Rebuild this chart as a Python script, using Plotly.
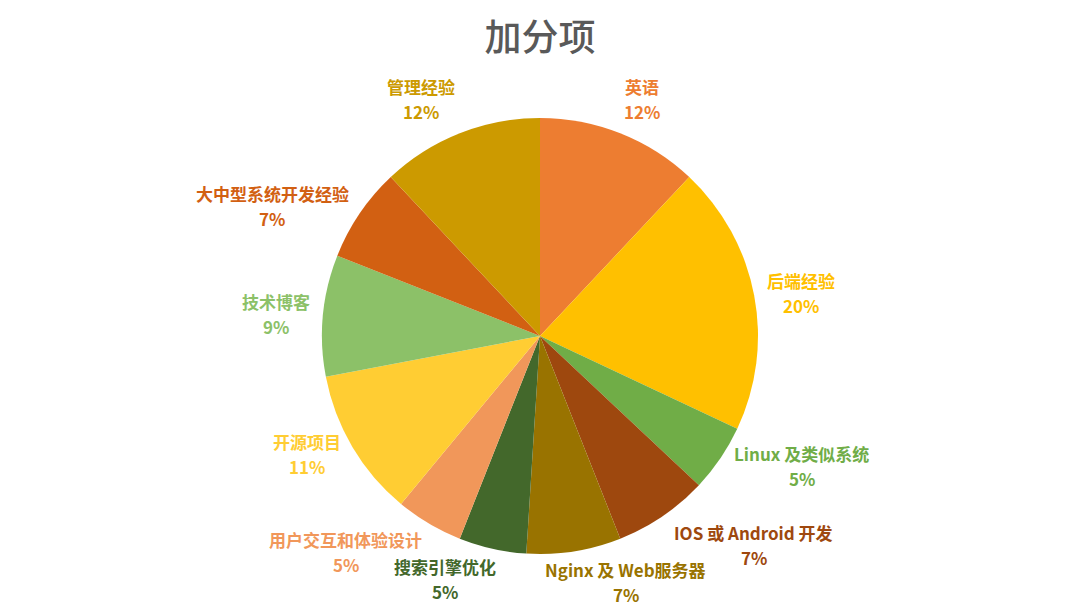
import math
import plotly.graph_objects as go

# Pie data, clockwise from 12 o'clock
labels = ['英语', '后端经验', 'Linux 及类似系统', 'IOS 或 Android 开发', 'Nginx 及 Web服务器',
          '搜索引擎优化', '用户交互和体验设计', '开源项目', '技术博客', '大中型系统开发经验', '管理经验']
values = [12, 20, 5, 7, 7, 5, 5, 11, 9, 7, 12]
colors = ['#ED7D31', '#FFC000', '#70AD47', '#9E480E', '#997300',
          '#43682B', '#F1975A', '#FFCD33', '#8CC168', '#D26012', '#CC9A00']

W, H = 1080, 607
cx, cy, R = 540, 336, 218   # pie centre / radius in pixels (from top-left)
FS = 17                     # label font size
GAP = 25                    # distance between label line and percent line


def text_width(t):
    # rough width estimate of a bold label in pixels
    w = 0
    for ch in t:
        if ord(ch) > 0x2e80:
            w += FS
        elif ch == ' ':
            w += FS * 0.28
        else:
            w += FS * 0.6
    return w


fig = go.Figure(go.Pie(
    labels=labels,
    values=values,
    sort=False,
    direction='clockwise',
    rotation=0,
    marker=dict(colors=colors, line=dict(width=0)),
    textinfo='none',
    hoverinfo='label+percent',
    domain=dict(x=[(cx - R) / W, (cx + R) / W], y=[(H - cy - R) / H, (H - cy + R) / H]),
    showlegend=False,
))

# Outside labels placed around the slice mid-angles
total = sum(values)
cum = 0
for lab, val, col in zip(labels, values, colors):
    mid = (cum + val / 2) / total * 2 * math.pi
    cum += val
    s, c = math.sin(mid), math.cos(mid)
    r = R * 1.06
    px_ = cx + r * s
    py_ = cy - r * c
    w = text_width(lab)
    # shift the block away from the pie, less so near 6 o'clock / 12 o'clock
    k = min(1.0, abs(s) / 0.25)
    bx = px_ + math.copysign(w / 2 * k, s)
    if c > 0.7:
        y_lab, y_pct = py_ - 10 - GAP, py_ - 10
    elif c < -0.7:
        y_lab, y_pct = py_ + 5, py_ + 5 + GAP
    else:
        y_lab, y_pct = py_ - GAP / 2, py_ + GAP / 2
    for txt, yy in ((lab, y_lab), (f'{round(val / total * 100)}%', y_pct)):
        fig.add_annotation(
            x=bx / W, y=1 - yy / H, xref='paper', yref='paper',
            xanchor='center', yanchor='middle', showarrow=False,
            text=f'<b>{txt}</b>',
            font=dict(family='Noto Sans CJK SC', size=FS, color=col),
        )

fig.update_layout(
    width=W, height=H,
    margin=dict(l=0, r=0, t=0, b=0),
    paper_bgcolor='white',
    title=dict(text='加分项', x=0.5, y=0.937, xanchor='center', yanchor='middle',
               font=dict(family='Noto Sans CJK SC', size=37, color='#595959', weight=500)),
)

# drop the default page margin so the figure sits at the window origin
fig.write_html('out.html', config={'displayModeBar': False},
               post_script="document.body.style.margin='0';")
